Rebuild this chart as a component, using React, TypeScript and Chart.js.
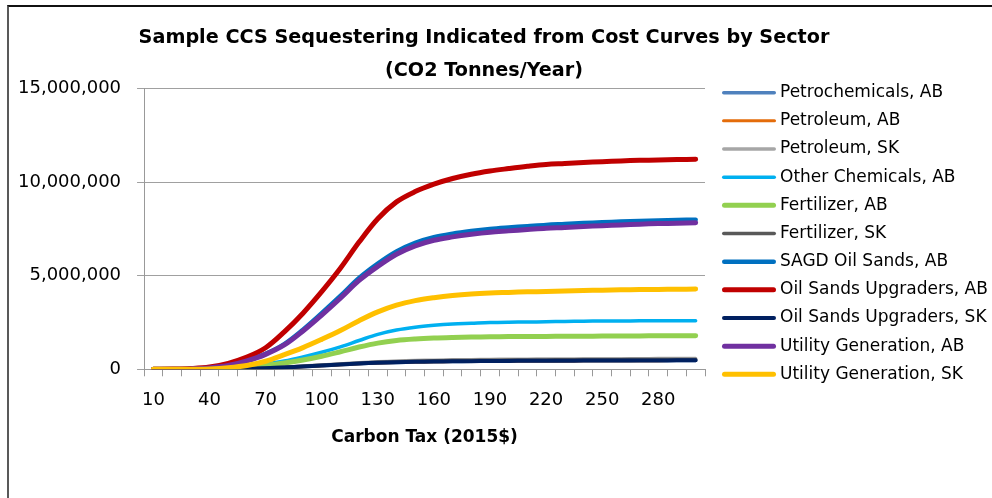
import React, { useEffect, useRef } from 'react';
import { Chart, registerables } from 'chart.js';

Chart.register(...registerables);

const CATEGORIES = ['10', '20', '30', '40', '50', '60', '70', '80', '90', '100', '110', '120', '130', '140', '150', '160', '170', '180', '190', '200', '210', '220', '230', '240', '250', '260', '270', '280', '290', '300'];

const PETROCHEMICALS_AB = [0, 0, 0, 1500, 9000, 28000, 56000, 95000, 143000, 193000, 250000, 300000, 340000, 370000, 390000, 405000, 416000, 426000, 433000, 439000, 444000, 448000, 452000, 456000, 459000, 462000, 465000, 467000, 469000, 471000];
const PETROLEUM_AB = [0, 0, 0, 1500, 8000, 26000, 54000, 92000, 140000, 190000, 246000, 296000, 336000, 366000, 386000, 401000, 412000, 422000, 429000, 435000, 440000, 444000, 448000, 452000, 455000, 458000, 461000, 463000, 465000, 467000];
const PETROLEUM_SK = [0, 0, 0, 3000, 12000, 35000, 70000, 115000, 170000, 230000, 290000, 350000, 400000, 440000, 470000, 490000, 505000, 517000, 527000, 535000, 542000, 548000, 553000, 558000, 562000, 566000, 569000, 572000, 575000, 578000];
const OTHER_CHEMICALS_AB = [0, 0, 5000, 15000, 50000, 130000, 280000, 440000, 660000, 910000, 1200000, 1540000, 1870000, 2100000, 2250000, 2350000, 2420000, 2460000, 2500000, 2520000, 2530000, 2540000, 2560000, 2570000, 2580000, 2580000, 2590000, 2590000, 2600000, 2600000];
const FERTILIZER_AB = [0, 0, 3000, 10000, 40000, 100000, 210000, 340000, 500000, 700000, 940000, 1190000, 1400000, 1540000, 1620000, 1670000, 1700000, 1720000, 1740000, 1750000, 1755000, 1760000, 1765000, 1770000, 1775000, 1780000, 1785000, 1790000, 1795000, 1800000];
const FERTILIZER_SK = [0, 0, 0, 3000, 11000, 32000, 65000, 108000, 160000, 215000, 275000, 330000, 375000, 410000, 435000, 452000, 465000, 476000, 485000, 492000, 498000, 503000, 507000, 511000, 514000, 517000, 520000, 522000, 524000, 526000];
const SAGD_OIL_SANDS_AB = [0, 5000, 22000, 75000, 210000, 470000, 830000, 1350000, 2120000, 3000000, 3920000, 4880000, 5650000, 6300000, 6760000, 7060000, 7250000, 7390000, 7500000, 7580000, 7650000, 7720000, 7770000, 7820000, 7860000, 7900000, 7930000, 7960000, 7980000, 8000000];
const OIL_SANDS_UPGRADERS_AB = [0, 10000, 40000, 120000, 320000, 650000, 1150000, 2000000, 3000000, 4150000, 5400000, 6800000, 8050000, 8950000, 9500000, 9900000, 10200000, 10430000, 10600000, 10730000, 10850000, 10950000, 11000000, 11050000, 11100000, 11140000, 11170000, 11190000, 11210000, 11230000];
const OIL_SANDS_UPGRADERS_SK = [0, 0, 0, 2000, 10000, 30000, 60000, 100000, 150000, 200000, 260000, 310000, 350000, 380000, 400000, 415000, 425000, 435000, 442000, 448000, 453000, 457000, 461000, 465000, 468000, 471000, 474000, 476000, 478000, 480000];
const UTILITY_GENERATION_AB = [0, 5000, 20000, 70000, 200000, 450000, 800000, 1300000, 2050000, 2900000, 3800000, 4750000, 5500000, 6150000, 6600000, 6900000, 7080000, 7220000, 7330000, 7400000, 7470000, 7540000, 7580000, 7630000, 7680000, 7720000, 7760000, 7790000, 7810000, 7830000];
const UTILITY_GENERATION_SK = [0, 0, 5000, 20000, 80000, 200000, 430000, 780000, 1160000, 1600000, 2070000, 2600000, 3070000, 3430000, 3670000, 3830000, 3950000, 4030000, 4080000, 4110000, 4140000, 4160000, 4190000, 4210000, 4230000, 4250000, 4260000, 4270000, 4280000, 4290000];

const SERIES_NAMES = ['Petrochemicals, AB', 'Petroleum, AB', 'Petroleum, SK', 'Other Chemicals, AB', 'Fertilizer, AB', 'Fertilizer, SK', 'SAGD Oil Sands, AB', 'Oil Sands Upgraders, AB', 'Oil Sands Upgraders, SK', 'Utility Generation, AB', 'Utility Generation, SK'];
const SERIES_VALUES = [PETROCHEMICALS_AB, PETROLEUM_AB, PETROLEUM_SK, OTHER_CHEMICALS_AB, FERTILIZER_AB, FERTILIZER_SK, SAGD_OIL_SANDS_AB, OIL_SANDS_UPGRADERS_AB, OIL_SANDS_UPGRADERS_SK, UTILITY_GENERATION_AB, UTILITY_GENERATION_SK];
const SERIES_COLORS = ['#4F81BD', '#E46C0A', '#A6A6A6', '#00B0F0', '#92D050', '#595959', '#0070C0', '#C00000', '#002060', '#7030A0', '#FFC000'];
const SERIES_WIDTHS = [3.5, 3, 3.5, 3.5, 5, 3.5, 4.5, 5, 4, 5, 5];

const TITLE_LINES = ['Sample CCS Sequestering Indicated from Cost Curves by Sector', '(CO2 Tonnes/Year)'];
const X_TITLE = 'Carbon Tax (2015$)';
const Y_MAX = 15000000;
const Y_STEP = 5000000;

const FONT = 'DejaVu Sans';

// legend layout (style)
const LEGEND_X = 722;
const LEGEND_LINE_LEN = 54;
const LEGEND_TEXT_GAP = 4;
const LEGEND_Y0 = 92.7;
const LEGEND_STEP = 28.16;
const TITLE_CENTER_X = 484;

function fmt(v: number): string {
  return String(Math.round(v)).replace(/\B(?=(\d{3})+(?!\d))/g, ',');
}

export default function App() {
  const ref = useRef<HTMLCanvasElement | null>(null);

  useEffect(() => {
    if (!ref.current) return;
    const n = SERIES_NAMES.length;
    const datasets = SERIES_NAMES.map((name, i) => ({
      label: name,
      data: SERIES_VALUES[i],
      borderColor: SERIES_COLORS[i],
      backgroundColor: SERIES_COLORS[i],
      borderWidth: SERIES_WIDTHS[i],
      pointRadius: 0,
      tension: 0.35,
      borderCapStyle: 'round' as const,
      borderJoinStyle: 'round' as const,
      fill: false,
      order: n - 1 - i,
    }));

    const titleShift = {
      id: 'titleShift',
      afterLayout(chart: any) {
        const t = chart.titleBlock;
        if (t) {
          t.left = TITLE_CENTER_X - 470;
          t.right = TITLE_CENTER_X + 470;
        }
      },
    };

    const sideLegend = {
      id: 'sideLegend',
      afterDraw(chart: any) {
        const ctx = chart.ctx as CanvasRenderingContext2D;
        ctx.save();
        ctx.font = `17px "${FONT}"`;
        ctx.textBaseline = 'middle';
        ctx.textAlign = 'left';
        chart.data.datasets.forEach((ds: any, i: number) => {
          const y = LEGEND_Y0 + i * LEGEND_STEP;
          const w = ds.borderWidth;
          ctx.strokeStyle = ds.borderColor;
          ctx.lineWidth = w;
          ctx.lineCap = 'round';
          ctx.beginPath();
          ctx.moveTo(LEGEND_X + w / 2, y);
          ctx.lineTo(LEGEND_X + LEGEND_LINE_LEN - w / 2, y);
          ctx.stroke();
          ctx.fillStyle = '#000';
          ctx.fillText(ds.label, LEGEND_X + LEGEND_LINE_LEN + LEGEND_TEXT_GAP, y);
        });
        ctx.restore();
      },
    };

    const chart = new Chart(ref.current, {
      type: 'line',
      data: { labels: CATEGORIES, datasets },
      plugins: [titleShift, sideLegend],
      options: {
        responsive: false,
        animation: false,
        devicePixelRatio: 1,
        font: { family: FONT },
        layout: { padding: { left: 2, right: 287, top: 0, bottom: 30.8 } },
        plugins: {
          title: {
            display: true,
            text: TITLE_LINES,
            color: '#000',
            font: { family: FONT, size: 19.2, weight: 'bold', lineHeight: '33px' },
            padding: { top: 21.5, bottom: 1.2 },
          },
          legend: { display: false },
          tooltip: { enabled: false },
        },
        scales: {
          x: {
            offset: true,
            grid: { offset: true, drawOnChartArea: false, drawTicks: true, tickLength: 7, color: '#999' },
            border: { display: true, color: '#999' },
            ticks: {
              autoSkip: false,
              maxRotation: 0,
              padding: 13,
              color: '#000',
              font: { family: FONT, size: 18 },
              callback: (_v: any, i: number) => (i % 3 === 0 ? CATEGORIES[i] : ''),
            },
            title: {
              display: true,
              text: X_TITLE,
              color: '#000',
              font: { family: FONT, size: 17, weight: 'bold' },
              padding: { top: 3.9, bottom: 19 },
            },
          },
          y: {
            min: 0,
            max: Y_MAX,
            ticks: {
              stepSize: Y_STEP,
              padding: 16,
              color: '#000',
              font: { family: FONT, size: 18 },
              callback: (v: any) => fmt(Number(v)),
            },
            grid: { color: '#a0a0a0', tickLength: 7 },
            border: { display: true, color: '#999' },
          },
        },
      } as any,
    });
    return () => chart.destroy();
  }, []);

  return (
    <div style={{ position: 'absolute', left: 0, top: 0, width: 992, height: 498, overflow: 'hidden', background: '#fff' }}>
      <div
        style={{
          position: 'absolute',
          left: 7,
          top: 5,
          width: 1100,
          height: 700,
          borderTop: '2px solid #111',
          borderLeft: '2px solid #595959',
        }}
      />
      <canvas ref={ref} width={992} height={498} style={{ position: 'absolute', left: 0, top: 0, width: 992, height: 498 }} />
    </div>
  );
}
